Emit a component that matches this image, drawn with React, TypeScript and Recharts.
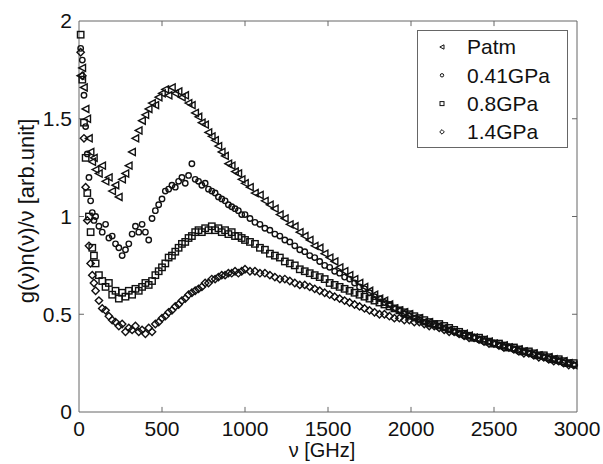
import React from 'react';
import { ScatterChart, Scatter, XAxis, YAxis, ReferenceLine, Legend } from 'recharts';

// frequency grid [GHz], shared by all four spectra
const nu = [
  10, 20, 30, 40, 50, 60, 70, 80, 90, 100,
  120, 140, 160, 180, 200, 220, 240, 260, 280, 300,
  320, 340, 360, 380, 400, 420, 440, 460, 480, 500,
  520, 540, 560, 580, 600, 620, 640, 660, 680, 700,
  720, 740, 760, 780, 800, 820, 840, 860, 880, 900,
  920, 940, 960, 980, 1000,
  1030, 1060, 1090, 1120, 1150, 1180, 1210, 1240, 1270, 1300,
  1330, 1360, 1390, 1420, 1450, 1480, 1510, 1540, 1570, 1600,
  1630, 1660, 1690, 1720, 1750, 1780, 1810, 1840, 1870, 1900,
  1930, 1960, 1990, 2020, 2050, 2080, 2110, 2140, 2170, 2200,
  2230, 2260, 2290, 2320, 2350, 2380, 2410, 2440, 2470, 2500,
  2530, 2560, 2590, 2620, 2650, 2680, 2710, 2740, 2770, 2800,
  2830, 2860, 2890, 2920, 2950, 2980,
];

const patm = [
  1.72, 1.76, 1.66, 1.55, 1.5, 1.4, 1.33, 1.28, 1.3, 1.24,
  1.22, 1.26, 1.18, 1.2, 1.13, 1.16, 1.1, 1.19, 1.22, 1.26,
  1.33, 1.4, 1.44, 1.49, 1.52, 1.55, 1.58, 1.57, 1.61, 1.63,
  1.65, 1.62, 1.66, 1.63, 1.64, 1.61, 1.62, 1.58, 1.57, 1.53,
  1.51, 1.48, 1.47, 1.43, 1.41, 1.39, 1.36, 1.33, 1.31, 1.27,
  1.26, 1.23, 1.22, 1.19, 1.17,
  1.15, 1.12, 1.11, 1.08, 1.06, 1.04, 1.01, 0.99, 0.96, 0.95,
  0.92, 0.9, 0.88, 0.85, 0.84, 0.81, 0.79, 0.77, 0.74, 0.72,
  0.7, 0.68, 0.66, 0.64, 0.62, 0.6, 0.58, 0.57, 0.55, 0.53,
  0.52, 0.51, 0.5, 0.48, 0.48, 0.46, 0.46, 0.44, 0.44, 0.43,
  0.42, 0.41, 0.4, 0.4, 0.39, 0.38, 0.37, 0.37, 0.36, 0.35,
  0.34, 0.34, 0.33, 0.32, 0.32, 0.31, 0.3, 0.3, 0.29, 0.28,
  0.28, 0.27, 0.26, 0.26, 0.25, 0.24,
];

const gpa041 = [
  1.86, 1.8, 1.62, 1.46, 1.32, 1.2, 1.08, 1.02, 0.98, 1.0,
  0.95, 0.92, 0.96, 0.89, 0.9, 0.86, 0.84, 0.8, 0.83, 0.86,
  0.91, 0.95, 0.92, 0.96, 0.92, 0.88, 0.99, 1.03, 1.06, 1.09,
  1.13, 1.14, 1.16, 1.15, 1.18, 1.2, 1.17, 1.21, 1.27, 1.19,
  1.18, 1.16, 1.17, 1.14, 1.13, 1.12, 1.1, 1.09, 1.08, 1.06,
  1.05, 1.04, 1.03, 1.01, 1.01,
  0.99, 0.97, 0.96, 0.94, 0.93, 0.91, 0.9, 0.88, 0.87, 0.85,
  0.83, 0.82, 0.8, 0.79, 0.77, 0.75, 0.74, 0.72, 0.71, 0.69,
  0.68, 0.66, 0.64, 0.63, 0.61, 0.59, 0.58, 0.56, 0.55, 0.53,
  0.52, 0.5, 0.49, 0.48, 0.47, 0.46, 0.45, 0.45, 0.44, 0.43,
  0.42, 0.41, 0.4, 0.39, 0.39, 0.38, 0.37, 0.36, 0.36, 0.35,
  0.34, 0.33, 0.33, 0.32, 0.31, 0.31, 0.3, 0.29, 0.29, 0.28,
  0.27, 0.27, 0.26, 0.25, 0.25, 0.24,
];

const gpa08 = [
  1.93, 1.7, 1.48, 1.3, 1.12, 1.0, 0.92, 0.84, 0.8, 0.76,
  0.7, 0.67, 0.64, 0.66, 0.6, 0.62, 0.58, 0.61, 0.59, 0.62,
  0.6, 0.63, 0.62, 0.64, 0.66, 0.65, 0.67, 0.7, 0.72, 0.74,
  0.76, 0.79, 0.8, 0.82, 0.84, 0.86, 0.87, 0.89, 0.9, 0.92,
  0.93, 0.92, 0.94, 0.93, 0.95, 0.93, 0.94, 0.92, 0.93, 0.91,
  0.92, 0.9, 0.9, 0.89, 0.88,
  0.87, 0.86, 0.84, 0.83, 0.81, 0.8, 0.79, 0.77, 0.76, 0.75,
  0.73, 0.72, 0.71, 0.7, 0.69, 0.68, 0.66, 0.65, 0.64, 0.63,
  0.62, 0.61, 0.6, 0.59, 0.58, 0.57, 0.56, 0.55, 0.54, 0.53,
  0.52, 0.51, 0.5, 0.49, 0.48, 0.47, 0.46, 0.45, 0.45, 0.44,
  0.43, 0.42, 0.41, 0.4, 0.39, 0.38, 0.38, 0.37, 0.36, 0.35,
  0.35, 0.34, 0.33, 0.33, 0.32, 0.31, 0.31, 0.3, 0.29, 0.29,
  0.28, 0.27, 0.27, 0.26, 0.25, 0.25,
];

const gpa14 = [
  1.84, 1.72, 1.4, 1.15, 0.98, 0.85, 0.76, 0.7, 0.66, 0.62,
  0.57, 0.53, 0.52, 0.49, 0.47, 0.46, 0.44, 0.45, 0.41, 0.43,
  0.42, 0.44, 0.41, 0.42, 0.4, 0.43, 0.41, 0.45, 0.46, 0.48,
  0.49, 0.51, 0.52, 0.54, 0.55, 0.57, 0.58, 0.6, 0.61, 0.62,
  0.63, 0.64, 0.66, 0.66, 0.68, 0.68, 0.69, 0.7, 0.7, 0.71,
  0.71, 0.72, 0.71, 0.72, 0.73,
  0.72, 0.72, 0.71, 0.71, 0.7, 0.69, 0.68, 0.68, 0.67, 0.66,
  0.65, 0.65, 0.64, 0.63, 0.62, 0.61, 0.6, 0.59, 0.58, 0.57,
  0.56, 0.55, 0.54, 0.53, 0.52, 0.51, 0.5, 0.5, 0.49, 0.48,
  0.48, 0.47, 0.47, 0.46, 0.46, 0.45, 0.44, 0.44, 0.43, 0.42,
  0.41, 0.41, 0.4, 0.39, 0.38, 0.38, 0.37, 0.36, 0.35, 0.35,
  0.34, 0.33, 0.33, 0.32, 0.31, 0.3, 0.3, 0.29, 0.28, 0.28,
  0.27, 0.26, 0.26, 0.25, 0.24, 0.24,
];

const xTicks = [0, 500, 1000, 1500, 2000, 2500, 3000];
const yTicks = [0, 0.5, 1, 1.5, 2];

const FONT = '"Liberation Sans", Arial, Helvetica, sans-serif';
const AXIS = '#666';
const INK = '#111';

type Kind = 'tri' | 'circle' | 'square' | 'diamond';

const series: { name: string; kind: Kind; values: number[] }[] = [
  { name: 'Patm', kind: 'tri', values: patm },
  { name: '0.41GPa', kind: 'circle', values: gpa041 },
  { name: '0.8GPa', kind: 'square', values: gpa08 },
  { name: '1.4GPa', kind: 'diamond', values: gpa14 },
];

const toPoints = (values: number[]) => nu.map((x, i) => ({ x, y: values[i] }));

function Marker({ kind, cx, cy, r, w = 1 }: { kind: Kind; cx: number; cy: number; r: number; w?: number }) {
  const common = { fill: 'none', stroke: INK, strokeWidth: w };
  if (kind === 'tri') {
    const pts = `${cx - r * 1.1},${cy} ${cx + r},${cy - r * 1.1} ${cx + r},${cy + r * 1.1}`;
    return <polygon points={pts} {...common} />;
  }
  if (kind === 'circle') return <circle cx={cx} cy={cy} r={r * 0.85} {...common} />;
  if (kind === 'square') return <rect x={cx - r} y={cy - r} width={2 * r} height={2 * r} {...common} />;
  const d = r * 1.15;
  return <polygon points={`${cx},${cy - d} ${cx + d},${cy} ${cx},${cy + d} ${cx - d},${cy}`} {...common} />;
}

function LegendBox() {
  return (
    <svg width={151} height={118} style={{ display: 'block' }}>
      <rect x={0.5} y={0.5} width={150} height={117} fill="#fff" stroke={AXIS} />
      {series.map((s, i) => {
        const cy = 17 + i * 28.3;
        return (
          <g key={s.name}>
            <Marker kind={s.kind} cx={25} cy={cy} r={2} />
            <text x={50} y={cy} dy="0.35em" fontSize={21} fontFamily={FONT} fill={INK}>
              {s.name}
            </text>
          </g>
        );
      })}
    </svg>
  );
}

const XLabel = (props: any) => {
  const vb = props.viewBox || { x: 79, width: 498 };
  return (
    <text x={vb.x + vb.width / 2 - 6} y={457} textAnchor="middle" fontSize={20} fontFamily={FONT} fill={INK}>
      ν [GHz]
    </text>
  );
};

const YLabel = () => (
  <text x={34} y={211} transform="rotate(-90, 34, 211)" textAnchor="middle" fontSize={22} fontFamily={FONT} fill={INK}>
    g(ν)n(ν)/ν [arb.unit]
  </text>
);

// inward tick length, in data units (about 5px)
const tickLenX = 30;
const tickLenY = 0.026;

export default function App() {
  const tickStyle = { fill: INK, fontSize: 21, fontFamily: FONT };
  return (
    <div style={{ position: 'absolute', left: 0, top: 0, width: 603, height: 464, background: '#fff' }}>
      <ScatterChart width={603} height={464} margin={{ top: 21, right: 26, bottom: 0, left: 0 }}>
        <XAxis
          type="number"
          dataKey="x"
          domain={[0, 3000]}
          ticks={xTicks}
          height={52}
          tickLine={false}
          tickSize={0}
          tickMargin={9}
          stroke={AXIS}
          tick={tickStyle}
          label={<XLabel />}
        />
        <YAxis
          type="number"
          dataKey="y"
          domain={[0, 2]}
          ticks={yTicks}
          width={79}
          tickLine={false}
          tickSize={0}
          tickMargin={7}
          stroke={AXIS}
          tick={tickStyle}
          label={<YLabel />}
        />
        <ReferenceLine y={2} stroke={AXIS} ifOverflow="visible" />
        <ReferenceLine x={3000} stroke={AXIS} ifOverflow="visible" />
        {xTicks.slice(1, -1).map((t) => (
          <ReferenceLine key={'xb' + t} segment={[{ x: t, y: 0 }, { x: t, y: tickLenY }]} stroke={AXIS} ifOverflow="visible" />
        ))}
        {xTicks.slice(1, -1).map((t) => (
          <ReferenceLine key={'xt' + t} segment={[{ x: t, y: 2 }, { x: t, y: 2 - tickLenY }]} stroke={AXIS} ifOverflow="visible" />
        ))}
        {yTicks.slice(1, -1).map((t) => (
          <ReferenceLine key={'yl' + t} segment={[{ x: 0, y: t }, { x: tickLenX, y: t }]} stroke={AXIS} ifOverflow="visible" />
        ))}
        {yTicks.slice(1, -1).map((t) => (
          <ReferenceLine key={'yr' + t} segment={[{ x: 3000, y: t }, { x: 3000 - tickLenX, y: t }]} stroke={AXIS} ifOverflow="visible" />
        ))}
        {series.map((s) => (
          <Scatter
            key={s.name}
            name={s.name}
            data={toPoints(s.values)}
            isAnimationActive={false}
            shape={(p: any) => <Marker kind={s.kind} cx={p.cx} cy={p.cy} r={3.2} w={1.4} />}
          />
        ))}
        <Legend
          layout="vertical"
          align="center"
          verticalAlign="middle"
          content={() => <LegendBox />}
          wrapperStyle={{ left: 417, top: 30, width: 151, height: 118 }}
        />
      </ScatterChart>
    </div>
  );
}
